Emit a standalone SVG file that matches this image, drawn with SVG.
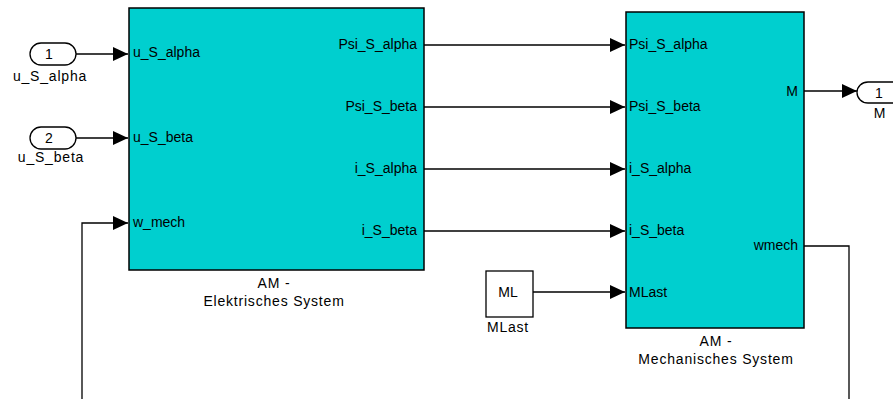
<svg xmlns="http://www.w3.org/2000/svg" width="893" height="399" viewBox="0 0 893 399">
<defs>
<style>
text{font-family:"Liberation Sans",Arial,sans-serif;font-size:14px;fill:#000}
.lbl{letter-spacing:0.8px}
.blk{fill:#00CFCF;stroke:#000;stroke-width:1.5}
.port{fill:#fff;stroke:#000;stroke-width:1.3}
.w{fill:none;stroke:#000;stroke-width:1.3}
.m{text-anchor:middle}
.e{text-anchor:end}
</style>
<marker id="ah" markerWidth="16" markerHeight="14" refX="15" refY="7" orient="auto" markerUnits="userSpaceOnUse">
<path d="M0,0 L15,7 L0,14 Z" fill="#000"/>
</marker>
</defs>
<g id="in1">
<rect class="port" x="30" y="43" width="46" height="22" rx="11"/>
<text class="m" x="49" y="59">1</text>
<text class="m lbl" x="50" y="81">u_S_alpha</text>
</g>
<g id="in2">
<rect class="port" x="30" y="127" width="46" height="22" rx="11"/>
<text class="m" x="49" y="143">2</text>
<text class="m lbl" x="51" y="162">u_S_beta</text>
</g>
<g id="elek">
<rect class="blk" x="129" y="8" width="295" height="262"/>
<text x="133" y="57">u_S_alpha</text>
<text x="133" y="142">u_S_beta</text>
<text x="133" y="227">w_mech</text>
<text class="e" x="417" y="49">Psi_S_alpha</text>
<text class="e" x="417" y="111">Psi_S_beta</text>
<text class="e" x="417" y="173">i_S_alpha</text>
<text class="e" x="417" y="235">i_S_beta</text>
<text class="m lbl" x="274" y="288">AM -</text>
<text class="m lbl" x="274" y="306">Elektrisches System</text>
</g>
<g id="mlast">
<rect x="486" y="271" width="47" height="46" fill="#fff" stroke="#000" stroke-width="1.3"/>
<text class="m" x="508" y="297">ML</text>
<text class="m lbl" x="508" y="332">MLast</text>
</g>
<g id="mech">
<rect class="blk" x="626" y="12" width="178" height="316"/>
<text x="629" y="49">Psi_S_alpha</text>
<text x="629" y="111">Psi_S_beta</text>
<text x="629" y="173">i_S_alpha</text>
<text x="629" y="235">i_S_beta</text>
<text x="629" y="297">MLast</text>
<text class="e" x="798" y="96">M</text>
<text class="e" x="798" y="250">wmech</text>
<text class="m lbl" x="716" y="346">AM -</text>
<text class="m lbl" x="716" y="364">Mechanisches System</text>
</g>
<g id="out1">
<path class="port" d="M868,82 H900 V103 H868 A11,10.5 0 0 1 868,82 Z"/>
<text class="m" x="879" y="98">1</text>
<text class="m lbl" x="880" y="118">M</text>
</g>
<g id="connectors">
<path class="w" d="M76,54 H128" marker-end="url(#ah)"/>
<path class="w" d="M76,138 H128" marker-end="url(#ah)"/>
<path class="w" d="M424,45 H625" marker-end="url(#ah)"/>
<path class="w" d="M424,107 H625" marker-end="url(#ah)"/>
<path class="w" d="M424,169 H625" marker-end="url(#ah)"/>
<path class="w" d="M424,231 H625" marker-end="url(#ah)"/>
<path class="w" d="M533,292 H625" marker-end="url(#ah)"/>
<path class="w" d="M804,91 H857" marker-end="url(#ah)"/>
<path class="w" d="M804,246 H849 V399"/>
<path class="w" d="M82,399 V223 H128" marker-end="url(#ah)"/>
</g>
</svg>
